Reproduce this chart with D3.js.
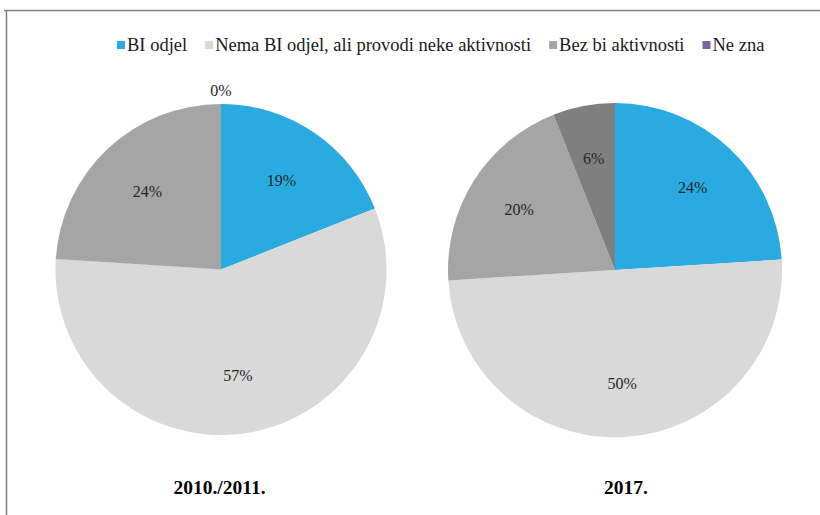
<!DOCTYPE html>
<html>
<head>
<meta charset="utf-8">
<script src="https://cdn.jsdelivr.net/npm/d3@7/dist/d3.min.js"></script>
<style>
  html, body { margin: 0; padding: 0; background: #fff; }
  svg { display: block; }
</style>
</head>
<body>
<svg id="chart" width="820" height="515" font-family="'Liberation Serif', 'Times New Roman', serif"></svg>
<script>
// Survey categories (legend order)
const categories = ["BI odjel", "Nema BI odjel, ali provodi neke aktivnosti", "Bez bi aktivnosti", "Ne zna"];
const legendColors = ["#29abe2", "#d9d9d9", "#a5a5a5", "#8064a2"];

// Share of respondents per category, in percent
const values2010 = [19, 57, 24, 0];
const values2017 = [24, 50, 20, 6];

// Period captions under each pie
const periodLabels = ["2010./2011.", "2017."];

// Slice fills per pie (the 2017 "Ne zna" slice is drawn in dark grey)
const sliceColors2010 = ["#29abe2", "#d9d9d9", "#a5a5a5", "#8064a2"];
const sliceColors2017 = ["#29abe2", "#d9d9d9", "#a5a5a5", "#7f7f7f"];

const svg = d3.select("#chart");

// Frame lines (top and left)
svg.append("line").attr("x1", 4).attr("x2", 820).attr("y1", 10.5).attr("y2", 10.5)
  .attr("stroke", "#7f7f7f").attr("stroke-width", 1.5);
svg.append("line").attr("x1", 6.5).attr("x2", 6.5).attr("y1", 10).attr("y2", 515)
  .attr("stroke", "#7f7f7f").attr("stroke-width", 1.5);

// Legend
const legend = svg.append("g").attr("transform", "translate(117,0)");
let lx = 0;
categories.forEach((c, i) => {
  const g = legend.append("g").attr("transform", `translate(${lx},0)`);
  g.append("rect").attr("x", 0).attr("y", 41).attr("width", 8).attr("height", 8)
    .attr("fill", legendColors[i]);
  const t = g.append("text").attr("x", 10).attr("y", 51)
    .attr("font-size", 18.5).attr("fill", "#1a1a1a").text(c);
  lx += 10 + t.node().getComputedTextLength() + 18;
});

const pie = d3.pie().sort(null).value(d => d);

function drawPie(values, colors, cx, cy, r, labelFrac, caption, captionX) {
  const g = svg.append("g").attr("transform", `translate(${cx},${cy})`);
  const arcs = pie(values);
  const arc = d3.arc().innerRadius(0).outerRadius(r);
  const labelArc = d3.arc().innerRadius(r * labelFrac).outerRadius(r * labelFrac);
  const outerArc = d3.arc().innerRadius(r + 14).outerRadius(r + 14);

  g.selectAll("path").data(arcs).join("path")
    .attr("d", arc).attr("fill", (d, i) => colors[i]);

  g.selectAll("text.val").data(arcs).join("text")
    .attr("class", "val")
    .attr("transform", d => `translate(${(d.value === 0 ? outerArc : labelArc).centroid(d)})`)
    .attr("text-anchor", "middle").attr("dy", "0.35em")
    .attr("font-size", 16).attr("fill", "#262626")
    .text(d => d.value + "%");

  svg.append("text").attr("x", captionX).attr("y", 494)
    .attr("text-anchor", "middle").attr("font-size", 19.5).attr("font-weight", "bold")
    .attr("fill", "#000").text(caption);
}

drawPie(values2010, sliceColors2010, 221, 269.5, 165.5, 0.65, periodLabels[0], 219.5);
drawPie(values2017, sliceColors2017, 615, 270, 167, 0.68, periodLabels[1], 626);
</script>
</body>
</html>
